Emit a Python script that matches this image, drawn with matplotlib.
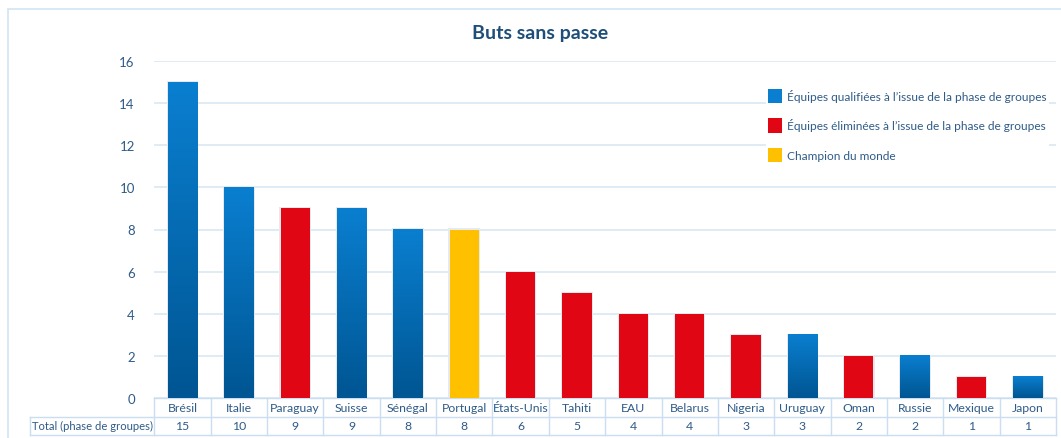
import numpy as np
import matplotlib.pyplot as plt
from matplotlib.patches import Patch, Rectangle
from matplotlib.colors import LinearSegmentedColormap
from matplotlib.transforms import blended_transform_factory

pays = ["Brésil", "Italie", "Paraguay", "Suisse", "Sénégal", "Portugal", "États-Unis",
        "Tahiti", "EAU", "Belarus", "Nigeria", "Uruguay", "Oman", "Russie", "Mexique", "Japon"]
buts = [15, 10, 9, 9, 8, 8, 6, 5, 4, 4, 3, 3, 2, 2, 1, 1]
# q = qualifiée, e = éliminée, c = champion
statut = ["q", "q", "e", "q", "q", "c", "e", "e", "e", "e", "e", "q", "e", "q", "e", "q"]

legend_labels = ["Équipes qualifiées à l’issue de la phase de groupes",
                 "Équipes éliminées à l’issue de la phase de groupes",
                 "Champion du monde"]

text_color = "#2f5b88"
grid_color = "#d9e7f4"
table_color = "#c9def1"
blue_cmap = LinearSegmentedColormap.from_list("bleu", ["#005592", "#0a7fd0"])
colors = {"q": "#0a7fd0", "e": "#e10613", "c": "#ffc000"}

plt.rcParams["font.family"] = ["Lato", "DejaVu Sans"]

fig = plt.figure(figsize=(10.61, 4.39), dpi=100)
ax = fig.add_axes([154.3 / 1061, 40 / 439, (1056 - 154.3) / 1061, (399 - 62) / 439])

# cadre extérieur
fig.add_artist(Rectangle((8 / 1061, -0.1), 1.2, (439 - 10) / 439 + 0.1,
                         transform=fig.transFigure, fill=False,
                         edgecolor="#d2e4f5", linewidth=1.2))

x = np.arange(len(pays))
width = 0.52
bars = ax.bar(x, buts, width=width, color=[colors[s] for s in statut], zorder=3)

# dégradé pour les équipes qualifiées
grad = np.linspace(0, 1, 256).reshape(-1, 1)
for b, s in zip(bars, statut):
    # ombre légère
    ax.add_patch(Rectangle((b.get_x() - 0.02, 0), b.get_width() + 0.04, b.get_height() + 0.05,
                           color="#e6e9ee", zorder=2, linewidth=0))
    if s == "q":
        b.set_facecolor("none")
        ax.imshow(grad, cmap=blue_cmap, aspect="auto", origin="lower", zorder=3,
                  extent=[b.get_x(), b.get_x() + b.get_width(), 0, b.get_height()])

ax.set_xlim(-0.5, len(pays) - 0.5)
ax.set_ylim(0, 16)
ax.set_yticks(range(0, 17, 2))
ax.set_xticks([])
ax.grid(axis="y", color=grid_color, linewidth=1.2, zorder=0)
for sp in ax.spines.values():
    sp.set_visible(False)
ax.tick_params(axis="y", length=0, pad=14, labelcolor=text_color, labelsize=9.5)

fig.text(540 / 1061, 1 - 33 / 439, "Buts sans passe", fontsize=14, fontweight="bold",
         color="#1f4e79", ha="center", va="center")

# tableau de données sous le graphique
tr = blended_transform_factory(ax.transData, ax.transAxes)
row_h = 18.5 / 337
left_cell = (30 - 154.3) / (1056 - 154.3) * 16 - 0.5
kw = dict(transform=tr, clip_on=False, color=table_color, linewidth=1)
for i in range(3):
    y = -i * row_h
    x0 = -0.5 if i == 0 else left_cell
    ax.plot([x0, len(pays) - 0.5], [y, y], **kw)
for xi in np.arange(len(pays) + 1) - 0.5:
    ax.plot([xi, xi], [0, -2 * row_h], **kw)
ax.plot([left_cell, left_cell], [-row_h, -2 * row_h], **kw)

for xi, p, v in zip(x, pays, buts):
    ax.text(xi, -0.5 * row_h, p, transform=tr, ha="center", va="center",
            fontsize=8.8, color=text_color)
    ax.text(xi, -1.5 * row_h, str(v), transform=tr, ha="center", va="center",
            fontsize=8.8, color=text_color)
ax.text((left_cell - 0.5) / 2, -1.5 * row_h, "Total (phase de groupes)", transform=tr,
        ha="center", va="center", fontsize=8.1, color=text_color)

handles = [Patch(facecolor=colors[k], edgecolor="none") for k in ["q", "e", "c"]]
leg = ax.legend(handles, legend_labels, loc="upper left", bbox_to_anchor=(0.678, 0.925),
                frameon=True, fontsize=8.6, labelcolor=text_color, handlelength=1.15,
                handleheight=1.45, handletextpad=0.4, labelspacing=1.3, borderpad=0.2,
                borderaxespad=0)
leg.get_frame().set_edgecolor("none")
leg.get_frame().set_facecolor("white")
leg.get_frame().set_alpha(1)
leg.set_zorder(5)

fig.savefig("out.png", dpi=100)
